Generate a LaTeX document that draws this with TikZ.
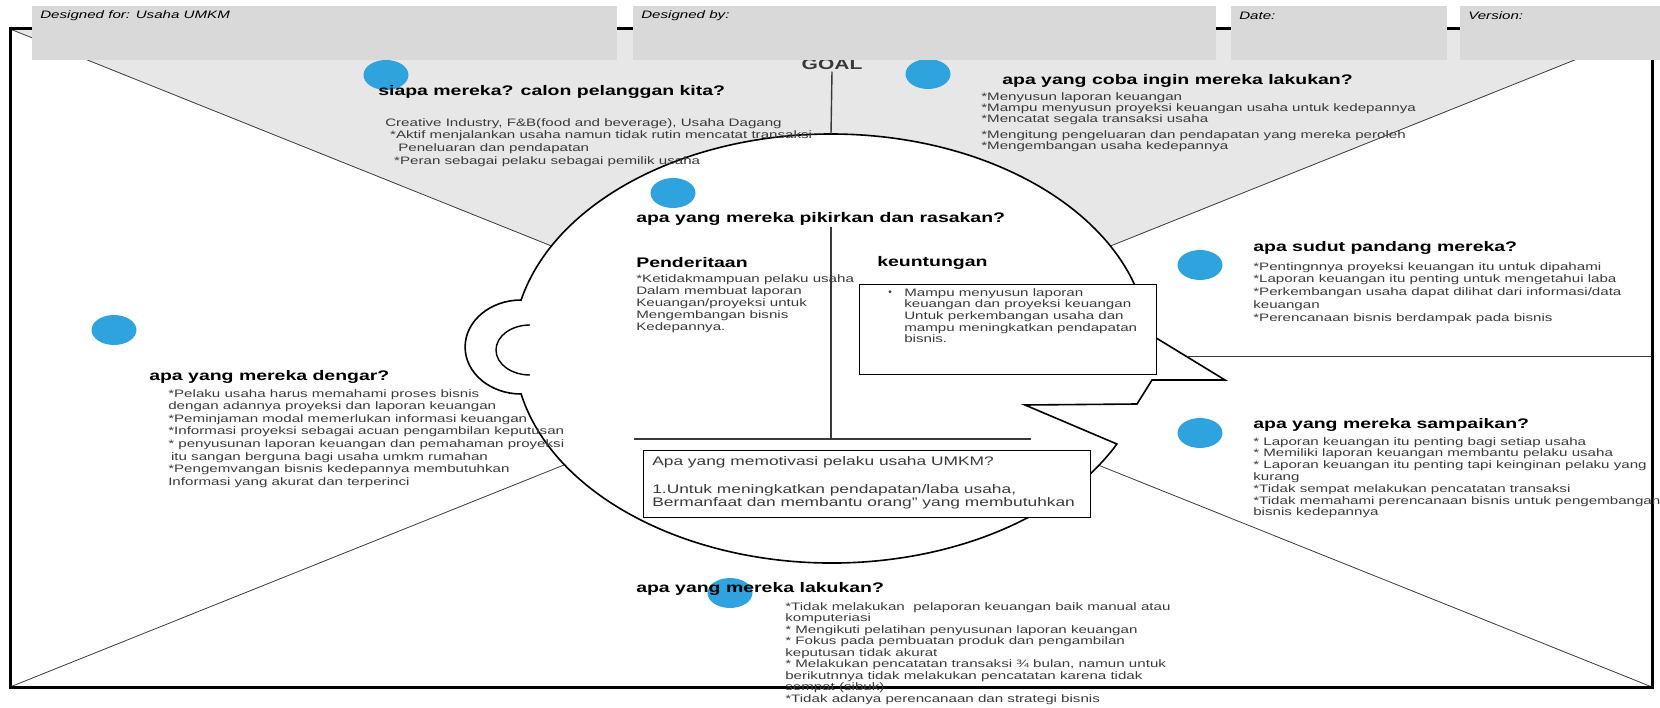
\documentclass[tikz,border=0pt]{standalone}
\usepackage{fontspec}
\setmainfont{Liberation Sans}
\usetikzlibrary{shapes.geometric}
\definecolor{dotblue}{HTML}{2EA3DD}
\definecolor{hdr}{HTML}{D9D9D9}
\definecolor{lite}{HTML}{E7E7E7}
\definecolor{ink}{HTML}{3A3A3A}

\begin{document}
\begin{tikzpicture}[x=1pt,y=-1pt,
  ttl/.style={font=\bfseries\fontsize{13.9}{15}\selectfont,xscale=1.4,anchor=west,inner sep=0pt},
  txt/.style={font=\fontsize{10.8}{12}\selectfont,text=ink,xscale=1.4,anchor=north west,align=left,inner sep=0pt},
  hd/.style={font=\itshape\fontsize{10.8}{12}\selectfont,xscale=1.4,anchor=west,inner sep=0pt},
  hbox/.style={fill=hdr,draw=none,anchor=north west,minimum height=54pt,inner sep=0pt},
  box/.style={fill=white,draw=black,line width=1pt,anchor=north west,inner sep=0pt},
  blob/.style={ellipse,fill=dotblue,draw=none,minimum width=45pt,minimum height=30pt,inner sep=0pt},
  thin/.style={draw=ink,line width=0.8pt}]
  \useasboundingbox (0,0) rectangle (1660,708);

  \coordinate (tl) at (10,29);
  \coordinate (tr) at (1652,29);
  \coordinate (bl) at (10,687);
  \coordinate (br) at (1652,687);
  \coordinate (mid) at (831,358);
  \coordinate (top) at (831,134);

  \fill[lite] (tl) -- (tr) -- (mid) -- cycle;
  \draw[thin] (tl) -- (mid);
  \draw[thin] (tr) -- (mid);
  \draw[thin] (bl) -- (mid);
  \draw[thin] (br) -- (mid);
  \draw[line width=3pt] (tl) rectangle (br);

  \draw[fill=white,line width=1.6pt] (top)
    arc[start angle=-90,end angle=-167.04,x radius=318,y radius=214]
    arc[start angle=-90,end angle=-270,x radius=56,y radius=47]
    arc[start angle=167.86,end angle=26.36,x radius=318,y radius=214]
    -- (1025,405) -- (1137,404) -- (1152,380) -- (1225,380) -- (1148,333)
    arc[start angle=-4.02,end angle=-90,x radius=318,y radius=214] -- cycle;
  \draw[line width=1.4pt] (530,325) arc[start angle=-90,end angle=-270,x radius=34,y radius=25];

  \coordinate (lip) at (1187,357);
  \draw[draw=ink,line width=1pt] (lip) -- (1652,357);
  \draw[draw=ink,line width=1.4pt] (831,227) -- (831,439);
  \draw[draw=ink,line width=1.4pt] (634,439) -- (1031,439);

  \node[box,minimum width=297pt,minimum height=90pt] (gainbox) at (859,284) {};
  \node[box,minimum width=447pt,minimum height=67pt] (whybox) at (643,450) {};

  \node[blob] (d1) at (386,75) {};
  \node[blob] (d2) at (928,74) {};
  \node[blob] (d3) at (673,193) {};
  \node[blob] (d4) at (1200,265) {};
  \node[blob] (d5) at (114,330) {};
  \node[blob] (d6) at (1200,433) {};
  \node[blob] (d7) at (730,593) {};

  \node[font=\bfseries\fontsize{15}{16}\selectfont,text=ink,xscale=1.4,inner sep=2pt] (goal) at (832,64) {GOAL};
  \draw[draw=ink,line width=1.4pt] (goal.south) -- (top);

  \node[ttl] (who) at (378,92) {siapa mereka? calon pelanggan kita?};
  \node[txt,font=\fontsize{10.8}{12.7}\selectfont] (whotxt) at (385,118) {Creative Industry, F\&B(food and beverage), Usaha Dagang\\
    \hspace*{3.5pt}{*}Aktif menjalankan usaha namun tidak rutin mencatat transaksi\\
    \hspace*{9.3pt}Peneluaran dan pendapatan\\
    \hspace*{6.4pt}{*}Peran sebagai pelaku sebagai pemilik usaha};

  \node[ttl] (want) at (1002,81) {apa yang coba ingin mereka lakukan?};
  \node[txt,font=\fontsize{10.8}{11}\selectfont] (wanttxt) at (981,92) {{*}Menyusun laporan keuangan\\
    {*}Mampu menyusun proyeksi keuangan usaha untuk kedepannya\\
    {*}Mencatat segala transaksi usaha\\[5pt]
    {*}Mengitung pengeluaran dan pendapatan yang mereka peroleh\\
    {*}Mengembangan usaha kedepannya};

  \node[ttl] (think) at (636,219) {apa yang mereka pikirkan dan rasakan?};
  \node[ttl] (pain) at (636,263) {Penderitaan};
  \node[ttl] (gain) at (877,263) {keuntungan};
  \node[txt] (paintxt) at (636,274) {{*}Ketidakmampuan pelaku usaha\\
    Dalam membuat laporan\\
    Keuangan/proyeksi untuk\\
    Mengembangan bisnis\\
    Kedepannya.};
  \node[font=\fontsize{10}{10}\selectfont,text=ink,inner sep=0pt] (bul) at (890,293) {•};
  \node[txt,font=\fontsize{10.8}{11.7}\selectfont] (gaintxt) at (904,288) {Mampu menyusun laporan\\
    keuangan dan proyeksi keuangan\\
    Untuk perkembangan usaha dan\\
    mampu meningkatkan pendapatan\\
    bisnis.};

  \node[ttl] (view) at (1253,248) {apa sudut pandang mereka?};
  \node[txt,font=\fontsize{10.8}{12.8}\selectfont] (viewtxt) at (1253,262) {{*}Pentingnnya proyeksi keuangan itu untuk dipahami\\
    {*}Laporan keuangan itu penting untuk mengetahui laba\\
    {*}Perkembangan usaha dapat dilihat dari informasi/data\\
    keuangan\\
    {*}Perencanaan bisnis berdampak pada bisnis};

  \node[ttl] (say) at (1253,425) {apa yang mereka sampaikan?};
  \node[txt,font=\fontsize{10.8}{11.8}\selectfont] (saytxt) at (1253,437) {{*} Laporan keuangan itu penting bagi setiap usaha\\
    {*} Memiliki laporan keuangan membantu pelaku usaha\\
    {*} Laporan keuangan itu penting tapi keinginan pelaku yang\\
    kurang\\
    {*}Tidak sempat melakukan pencatatan transaksi\\
    {*}Tidak memahami perencanaan bisnis untuk pengembangan\\
    bisnis kedepannya};

  \node[ttl] (hear) at (149,377) {apa yang mereka dengar?};
  \node[txt,font=\fontsize{10.8}{12.6}\selectfont] (heartxt) at (168,389) {{*}Pelaku usaha harus memahami proses bisnis\\
    dengan adannya proyeksi dan laporan keuangan\\
    {*}Peminjaman modal memerlukan informasi keuangan\\
    {*}Informasi proyeksi sebagai acuan pengambilan keputusan\\
    {*} penyusunan laporan keuangan dan pemahaman proyeksi\\
    \hspace*{2pt}itu sangan berguna bagi usaha umkm rumahan\\
    {*}Pengemvangan bisnis kedepannya membutuhkan\\
    Informasi yang akurat dan terperinci};

  \node[ttl] (do) at (636,589) {apa yang mereka lakukan?};
  \node[txt,font=\fontsize{10.8}{11.5}\selectfont] (dotxt) at (785,602) {{*}Tidak melakukan\ \ pelaporan keuangan baik manual atau\\
    komputeriasi\\
    {*} Mengikuti pelatihan penyusunan laporan keuangan\\
    {*} Fokus pada pembuatan produk dan pengambilan\\
    keputusan tidak akurat\\
    {*} Melakukan pencatatan transaksi ¾ bulan, namun untuk\\
    berikutnnya tidak melakukan pencatatan karena tidak\\
    sempat (sibuk)\\
    {*}Tidak adanya perencanaan dan strategi bisnis};

  \node[txt,font=\fontsize{12.4}{13.5}\selectfont] (whytxt) at (652,456) {Apa yang memotivasi pelaku usaha UMKM?\\[14.5pt]
    1.Untuk meningkatkan pendapatan/laba usaha,\\
    Bermanfaat dan membantu orang” yang membutuhkan};

  \node[hbox,minimum width=585pt] (h1) at (32,6) {};
  \node[hbox,minimum width=583pt] (h2) at (633,6) {};
  \node[hbox,minimum width=216pt] (h3) at (1231,6) {};
  \node[hbox,minimum width=200pt] (h4) at (1460,6) {};
  \node[hd] (for) at (40,16) {Designed for: Usaha UMKM};
  \node[hd] (by) at (641,16) {Designed by:};
  \node[hd] (date) at (1239,16) {Date:};
  \node[hd] (ver) at (1468,16) {Version:};
\end{tikzpicture}
\end{document}
